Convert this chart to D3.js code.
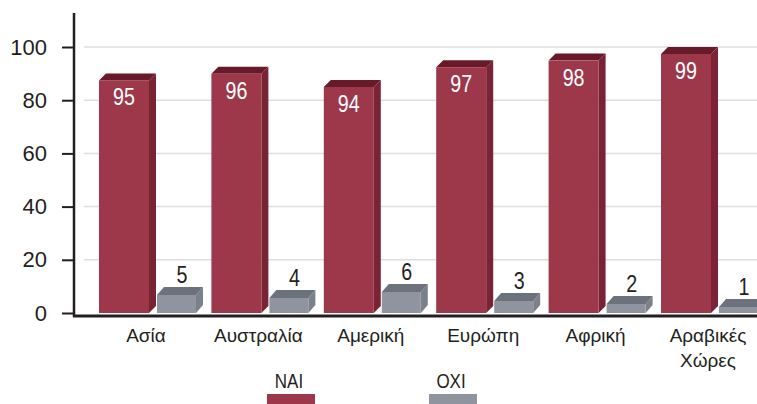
<!DOCTYPE html>
<html>
<head>
<meta charset="utf-8">
<script src="https://cdn.jsdelivr.net/npm/d3@7"></script>
<style>
  body { margin: 0; background: #fff; }
  svg { display: block; }
</style>
</head>
<body>
<div class="chart"></div>
<script>
// data
const categories = ['Ασία', 'Αυστραλία', 'Αμερική', 'Ευρώπη', 'Αφρική', 'Αραβικές Χώρες'];
const seriesNames = ['ΝΑΙ', 'ΟΧΙ'];
const yesValues = [95, 96, 94, 97, 98, 99];
const noValues = [5, 4, 6, 3, 2, 1];
const yTicks = [0, 20, 40, 60, 80, 100];

const colors = {
  'ΝΑΙ': { front: '#9d384b', side: '#7a2335', top: '#68192a' },
  'ΟΧΙ': { front: '#8f949e', side: '#7b818b', top: '#6b727c' }
};

const width = 757, height = 404;
const baseY = 313;
const font = '"Liberation Sans", Arial, sans-serif';
// the source uses a condensed face, so the numbers get squeezed a bit
const narrow = 0.82;

const svg = d3.select('.chart')
  .append('svg')
  .attr('width', width)
  .attr('height', height);

// axis scale
const y = d3.scaleLinear().domain([0, 100]).range([baseY, 47]);

// the original artwork is not drawn to its own axis, so the bars get their own
// (piecewise) scale, calibrated on the picture
const barY = d3.scaleLinear()
  .domain([0, 1, 6, 94, 99])
  .range([baseY, 307, 292, 87, 54]);

const x = d3.scaleBand()
  .domain(categories)
  .range([99, 99 + 112.4 * categories.length]);

const xs = d3.scaleBand()
  .domain(seriesNames)
  .range([0, 116]);

const barW = { 'ΝΑΙ': 50, 'ΟΧΙ': 39 };
const depth = { 'ΝΑΙ': [7, 7], 'ΟΧΙ': [7, 8] };

// grid lines
svg.append('g')
  .selectAll('line')
  .data(yTicks.filter(d => d > 0))
  .join('line')
  .attr('x1', 84)
  .attr('x2', width)
  .attr('y1', d => y(d))
  .attr('y2', d => y(d))
  .attr('stroke', '#dedede')
  .attr('stroke-width', 1.5);

// build the flat rows
const rows = [];
categories.forEach((c, i) => {
  rows.push({ cat: c, s: 'ΝΑΙ', v: yesValues[i] });
  rows.push({ cat: c, s: 'ΟΧΙ', v: noValues[i] });
});

const bars = svg.append('g').selectAll('g')
  .data(rows)
  .join('g');

bars.each(function(d) {
  const g = d3.select(this);
  const x0 = x(d.cat) + xs(d.s);
  const w = barW[d.s];
  const [dx, dy] = depth[d.s];
  const t = barY(d.v);
  const c = colors[d.s];

  // side face
  g.append('path')
    .attr('d', `M${x0 + w},${t} L${x0 + w + dx},${t - dy} L${x0 + w + dx},${baseY - dy} L${x0 + w},${baseY} Z`)
    .attr('fill', c.side);
  // top face
  g.append('path')
    .attr('d', `M${x0},${t} L${x0 + dx},${t - dy} L${x0 + w + dx},${t - dy} L${x0 + w},${t} Z`)
    .attr('fill', c.top);
  // front
  g.append('rect')
    .attr('x', x0)
    .attr('y', t)
    .attr('width', w)
    .attr('height', baseY - t)
    .attr('fill', c.front);

  // value label
  const lx = d.s === 'ΝΑΙ' ? x0 + w / 2 : x0 + (w + dx) / 2 + 2;
  const ly = d.s === 'ΝΑΙ' ? t + 25 : t - 12;
  g.append('text')
    .attr('transform', `translate(${lx},${ly}) scale(${narrow},1)`)
    .attr('text-anchor', 'middle')
    .attr('fill', d.s === 'ΝΑΙ' ? '#fff' : '#231f20')
    .style('font', `24px ${font}`)
    .text(d.v);
});

// y axis
const yAxis = svg.append('g')
  .attr('transform', 'translate(74,0)')
  .call(d3.axisLeft(y).tickValues(yTicks).tickSize(12).tickPadding(15));
yAxis.select('.domain').remove();
yAxis.selectAll('.tick line').attr('stroke', '#231f20').attr('stroke-width', 2);
yAxis.selectAll('.tick text')
  .attr('fill', '#231f20')
  .style('font', `22px ${font}`);

svg.append('line')
  .attr('x1', 74).attr('x2', 74)
  .attr('y1', 13).attr('y2', 317)
  .attr('stroke', '#231f20')
  .attr('stroke-width', 2.5);

svg.append('line')
  .attr('x1', 73).attr('x2', width)
  .attr('y1', 316).attr('y2', 316)
  .attr('stroke', '#231f20')
  .attr('stroke-width', 3);

// category labels
svg.append('g')
  .selectAll('text')
  .data(categories)
  .join('text')
  .attr('x', d => x(d) + 47)
  .attr('y', 342)
  .attr('text-anchor', 'middle')
  .attr('fill', '#231f20')
  .style('font', `19px ${font}`)
  .each(function(d) {
    const words = d.split(' ');
    d3.select(this).selectAll('tspan')
      .data(words)
      .join('tspan')
      .attr('x', x(d) + 47)
      .attr('dy', (w, i) => i === 0 ? 0 : 25)
      .text(w => w);
  });

// legend
const legendX = { 'ΝΑΙ': 291, 'ΟΧΙ': 453 };
const legend = svg.append('g')
  .selectAll('g')
  .data(seriesNames)
  .join('g')
  .attr('transform', d => `translate(${legendX[d]},0)`);

legend.append('text')
  .attr('transform', 'translate(-2,388) scale(0.87,1)')
  .attr('text-anchor', 'middle')
  .attr('fill', '#231f20')
  .style('font', `19.5px ${font}`)
  .text(d => d);

legend.append('rect')
  .attr('x', -24)
  .attr('y', 394)
  .attr('width', 48)
  .attr('height', 12)
  .attr('fill', d => colors[d].front);
</script>
</body>
</html>
